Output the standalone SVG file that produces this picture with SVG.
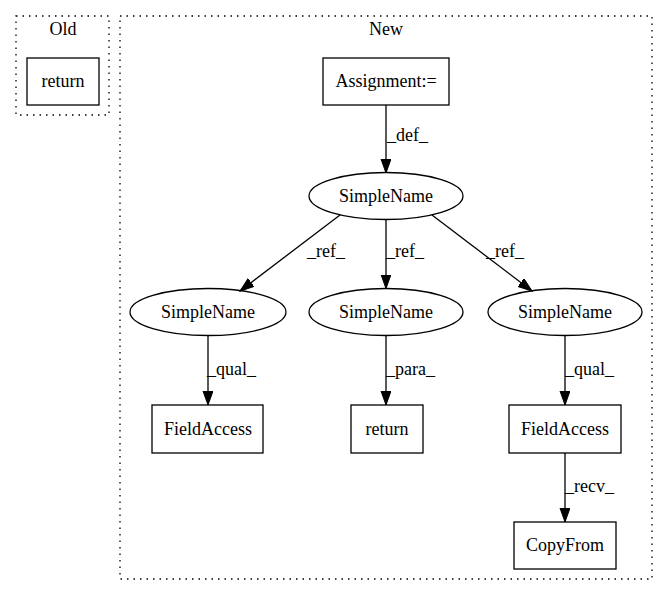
<svg xmlns="http://www.w3.org/2000/svg" width="669" height="596" viewBox="0 0 669 596">
<style>
text{font-family:"Liberation Serif","Times New Roman",serif;font-size:18px;fill:#000}
.c{text-anchor:middle}
.cl{fill:none;stroke:#000;stroke-width:1.3;stroke-dasharray:1.5,5}
.n{fill:none;stroke:#000;stroke-width:1.3}
.e{fill:none;stroke:#000;stroke-width:1.3;marker-end:url(#ah)}
</style>
<defs>
<marker id="ah" markerUnits="userSpaceOnUse" markerWidth="15" markerHeight="11" refX="14" refY="5" orient="auto">
<path d="M0,0 L14,5 L0,10 z" fill="#000" stroke="#000" stroke-width="1"/>
</marker>
</defs>
<rect width="669" height="596" fill="#fff"/>
<g id="cluster_old">
<rect class="cl" x="16" y="16" width="93" height="99"/>
<text class="c" x="63" y="35">Old</text>
</g>
<g id="cluster_new">
<rect class="cl" x="120" y="16" width="532" height="563"/>
<text class="c" x="386" y="35">New</text>
</g>
<g id="old_return">
<rect class="n" x="27" y="58" width="72" height="47"/>
<text class="c" x="63" y="87">return</text>
</g>
<g id="assign">
<rect class="n" x="323" y="58" width="126" height="47"/>
<text class="c" x="386" y="87">Assignment:=</text>
</g>
<g id="sn_top">
<ellipse class="n" cx="386" cy="196" rx="77" ry="23.5"/>
<text class="c" x="386" y="202">SimpleName</text>
</g>
<g id="sn_left">
<ellipse class="n" cx="208" cy="312" rx="78" ry="23.5"/>
<text class="c" x="208" y="318">SimpleName</text>
</g>
<g id="sn_mid">
<ellipse class="n" cx="386" cy="312" rx="77" ry="23.5"/>
<text class="c" x="386" y="318">SimpleName</text>
</g>
<g id="sn_right">
<ellipse class="n" cx="565" cy="312" rx="77" ry="23.5"/>
<text class="c" x="565" y="318">SimpleName</text>
</g>
<g id="fa_left">
<rect class="n" x="152" y="405" width="111" height="48"/>
<text class="c" x="208" y="435">FieldAccess</text>
</g>
<g id="new_return">
<rect class="n" x="351" y="405" width="72" height="48"/>
<text class="c" x="387" y="435">return</text>
</g>
<g id="fa_right">
<rect class="n" x="509" y="405" width="112" height="48"/>
<text class="c" x="565" y="435">FieldAccess</text>
</g>
<g id="copyfrom">
<rect class="n" x="514" y="522" width="102" height="47"/>
<text class="c" x="565" y="551">CopyFrom</text>
</g>
<g id="edges">
<path class="e" d="M386,105 L386,173"/>
<text x="387" y="141">_def_</text>
<path class="e" d="M340,215 L240,291"/>
<text x="307" y="257">_ref_</text>
<path class="e" d="M386,219.5 L386,288.5"/>
<text x="386" y="257">_ref_</text>
<path class="e" d="M432,215 L532,291"/>
<text x="486" y="257">_ref_</text>
<path class="e" d="M208,335.5 L208,405"/>
<text x="207" y="375">_qual_</text>
<path class="e" d="M386,335.5 L386,405"/>
<text x="386" y="375">_para_</text>
<path class="e" d="M565,335.5 L565,405"/>
<text x="565" y="375">_qual_</text>
<path class="e" d="M565,453 L565,522"/>
<text x="565" y="492">_recv_</text>
</g>
</svg>
